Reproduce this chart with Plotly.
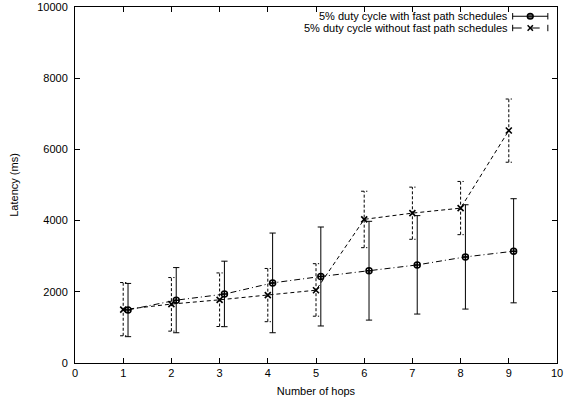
import plotly.graph_objects as go

# ---- data ----
hops = [1, 2, 3, 4, 5, 6, 7, 8, 9]
fast_x = [1.1, 2.1, 3.1, 4.1, 5.1, 6.1, 7.1, 8.1, 9.1]
fast_mean = [1490, 1765, 1935, 2250, 2430, 2590, 2755, 2980, 3140]
fast_hi = [2235, 2680, 2860, 3650, 3820, 3980, 4140, 4445, 4615]
fast_lo = [740, 850, 1020, 850, 1040, 1205, 1375, 1515, 1690]

slow_mean = [1500, 1655, 1775, 1905, 2045, 4035, 4210, 4350, 6530]
slow_hi = [2260, 2400, 2530, 2655, 2790, 4825, 4940, 5100, 7415]
slow_lo = [765, 895, 1025, 1160, 1315, 3240, 3475, 3605, 5640]

x_ticks = [0, 1, 2, 3, 4, 5, 6, 7, 8, 9, 10]
y_ticks = [0, 2000, 4000, 6000, 8000, 10000]
y_tick_text = ["0", "2000", "4000", "6000", "8000", "10000"]

label_fast = "5% duty cycle with fast path schedules"
label_slow = "5% duty cycle without fast path schedules"

FONT = "Liberation Sans, Arial, Helvetica, sans-serif"
cap = 0.065  # half cap width in x units

fig = go.Figure()

# dashed error bars for series without fast path (built from data)
ex, ey = [], []
for x, lo, hi in zip(hops, slow_lo, slow_hi):
    ex += [x, x, None, x - cap, x + cap, None, x - cap, x + cap, None]
    ey += [lo, hi, None, lo, lo, None, hi, hi, None]
fig.add_trace(go.Scatter(x=ex, y=ey, mode="lines",
                         line=dict(color="black", width=1, dash="3px,2px"),
                         hoverinfo="skip", showlegend=False))

# solid error bars for fast path series
fx, fy = [], []
for x, lo, hi in zip(fast_x, fast_lo, fast_hi):
    fx += [x, x, None, x - cap, x + cap, None, x - cap, x + cap, None]
    fy += [lo, hi, None, lo, lo, None, hi, hi, None]
fig.add_trace(go.Scatter(x=fx, y=fy, mode="lines",
                         line=dict(color="black", width=1),
                         hoverinfo="skip", showlegend=False))

fig.add_trace(go.Scatter(x=fast_x, y=fast_mean, mode="lines+markers", name=label_fast,
                         line=dict(color="black", width=1, dash="6px,3px,1px,3px"),
                         marker=dict(symbol="circle-cross-open", size=6, color="black",
                                     line=dict(width=1.5)),
                         showlegend=False))
fig.add_trace(go.Scatter(x=hops, y=slow_mean, mode="lines+markers", name=label_slow,
                         line=dict(color="black", width=1, dash="4px,3px"),
                         marker=dict(symbol="x-thin-open", size=6, color="black",
                                     line=dict(width=1.6, color="black")),
                         showlegend=False))

# ---- gnuplot-style legend (top-right, key sample to the right of text) ----
shapes = []
annotations = []
lx0, lx1 = 9.08, 9.81
rows = [(9740, label_fast, "solid"), (9410, label_slow, "dash")]
for yv, text, dash in rows:
    annotations.append(dict(x=lx0 - 0.06, y=yv, xref="x", yref="y", text=text,
                            showarrow=False, xanchor="right", yanchor="middle",
                            font=dict(family=FONT, size=11, color="black")))
    shapes.append(dict(type="line", x0=lx0, x1=lx1, y0=yv, y1=yv, xref="x", yref="y",
                       line=dict(color="black", width=1, dash=dash)))
    for xe in (lx0, lx1):
        shapes.append(dict(type="line", x0=xe, x1=xe, y0=yv - 90, y1=yv + 90,
                           xref="x", yref="y", line=dict(color="black", width=1)))
xc = (lx0 + lx1) / 2
# circle sample
shapes.append(dict(type="circle", xref="x", yref="y", x0=xc - 0.06, x1=xc + 0.06,
                   y0=rows[0][0] - 80, y1=rows[0][0] + 80,
                   line=dict(color="black", width=1.5), fillcolor="rgba(0,0,0,0.6)"))
# x sample
for s in (1, -1):
    shapes.append(dict(type="line", xref="x", yref="y", x0=xc - 0.055, x1=xc + 0.055,
                       y0=rows[1][0] - s * 75, y1=rows[1][0] + s * 75,
                       line=dict(color="black", width=1.5)))

fig.update_layout(
    width=568, height=403,
    margin=dict(l=75, r=11, t=7, b=40),
    paper_bgcolor="white", plot_bgcolor="white",
    font=dict(family=FONT, size=11, color="black"),
    shapes=shapes, annotations=annotations,
    showlegend=False,
)
fig.update_xaxes(range=[0, 10], tickvals=x_ticks, ticks="inside", ticklen=5,
                 tickcolor="black", showline=True, linecolor="black", linewidth=1,
                 mirror="ticks", showgrid=False, zeroline=False, automargin=False,
                 title=dict(text="Number of hops", standoff=9,
                            font=dict(family=FONT, size=11)),
                 tickfont=dict(family=FONT, size=11))
fig.update_yaxes(range=[0, 10000], tickvals=y_ticks, ticktext=y_tick_text,
                 ticks="inside", ticklen=5, ticklabelstandoff=4,
                 tickcolor="black", showline=True, linecolor="black", linewidth=1,
                 mirror="ticks", showgrid=False, zeroline=False, automargin=False,
                 title=dict(text="Latency (ms)", standoff=16,
                            font=dict(family=FONT, size=11)),
                 tickfont=dict(family=FONT, size=11))

# remove the browser's default 8px body margin so the figure fills the window
fig.write_html("out.html", config={"displayModeBar": False},
               post_script="document.body.style.margin='0';document.body.style.overflow='hidden';")
